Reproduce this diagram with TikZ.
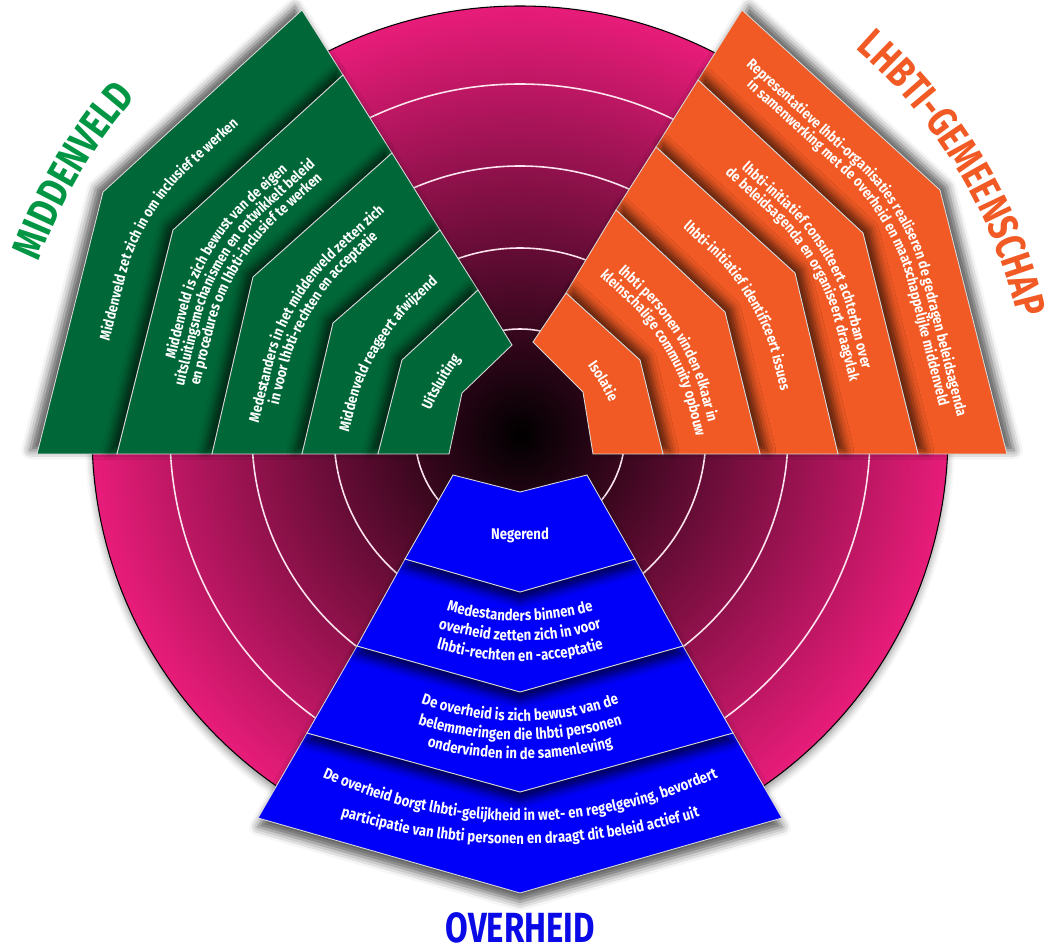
\documentclass[tikz,border=0pt]{standalone}
\usepackage{fontspec}
\usepackage{tikz}
\usetikzlibrary{calc}
\usetikzlibrary{decorations.text}
\usetikzlibrary{shadows.blur}

\definecolor{ringpink}{RGB}{232,28,122}
\definecolor{mvgreen}{RGB}{0,104,56}
\definecolor{mvtitle}{RGB}{0,150,68}
\definecolor{gmorange}{RGB}{241,90,36}
\definecolor{ohblue}{RGB}{0,0,250}
\definecolor{ohtitle}{RGB}{10,10,230}

\newfontfamily\bandfont[FakeStretch=0.85]{Fira Sans}
\newfontfamily\titlefont[FakeStretch=0.78]{Fira Sans}
\newcommand{\bandstyle}{\bandfont\bfseries\fontsize{8.4}{9}\selectfont}
\newcommand{\bluestyle}{\bandfont\bfseries\fontsize{8.8}{10}\selectfont}
\newcommand{\titlestyle}{\titlefont\bfseries\fontsize{24}{26}\selectfont}

% text line in a green band, bent round the corner (corner, offset, text)
\newcommand{\gline}[3]{%
  \path[decorate, decoration={text along path, text align=center, text color=white, text={|\bandstyle|#3}}, rounded corners=1.2cm]
    ($(#1)+({-0.895*(#2)-0.243*240},{-0.538*(#2)+0.970*240})$)
    -- ($(#1)+({-0.895*(#2)},{-0.538*(#2)})$)
    -- ($(#1)+({-0.895*(#2)+0.740*240},{-0.538*(#2)-0.673*240})$);
}
% same for the orange bands
\newcommand{\oline}[3]{%
  \path[decorate, decoration={text along path, text align=center, text color=white, text={|\bandstyle|#3}}, rounded corners=1.2cm]
    ($(#1)+({0.895*(#2)-0.740*240},{-0.538*(#2)-0.673*240})$)
    -- ($(#1)+({0.895*(#2)},{-0.538*(#2)})$)
    -- ($(#1)+({0.895*(#2)+0.246*240},{-0.538*(#2)+0.969*240})$);
}
% blue lines sag in the middle (baseline y, sag, half width, text)
\newcommand{\bline}[4]{%
  \path[decorate, decoration={text along path, text align=center, text color=white, text={|\bluestyle|#4}}]
    ({520-#3},{#1-#2}) .. controls ({520-#3/3},{#1+#2/3}) and ({520+#3/3},{#1+#2/3}) .. ({520+#3},{#1-#2});
}

\begin{document}
\begin{tikzpicture}[x=0.02cm, y=-0.02cm,
	gband/.style={fill=mvgreen, draw=white!85!black, line width=0.5pt, blur shadow={shadow xshift=-4pt, shadow yshift=2pt, shadow blur radius=5pt, shadow opacity=65}},
	oband/.style={fill=gmorange, draw=white!85!black, line width=0.5pt, blur shadow={shadow xshift=4pt, shadow yshift=2pt, shadow blur radius=5pt, shadow opacity=65}},
	bband/.style={fill=ohblue, draw=white!85!black, line width=0.5pt, blur shadow={shadow xshift=0pt, shadow yshift=-5pt, shadow blur radius=5pt, shadow opacity=65}},
	bandtext/.style={text=white, font=\bluestyle, inner sep=0pt},
	titletext/.style={font=\titlestyle, inner sep=0pt}]

	\useasboundingbox (0,0) rectangle (1049,952);
	\coordinate (ctr) at (520,434);
	\pgfmathsetmacro\outerR{428}

	%circle with the rings
	\path[blur shadow={shadow xshift=0pt, shadow yshift=-3pt, shadow blur radius=4pt, shadow opacity=40}] (ctr) circle[radius=\outerR];
	\shade[inner color=black, outer color=ringpink] (ctr) circle[radius=\outerR];
	\foreach \r in {350,268,186,105}{
		\draw[white!88!ringpink, line width=0.9pt] (ctr) circle[radius=\r];
	}
	\draw[black, line width=0.6pt] (ctr) circle[radius=\outerR];

	%green bands: bottom x / corner / end on the right edge
	\foreach \i/\bx/\cx/\cy/\ex/\ey in {0/37/103/192/302/10, 1/117/173/230/343/75, 2/212/253/277/392/153, 3/302/333/323/440/230, 4/378/402/360/478/290, 5/449/462/393/512/345}{
		\coordinate (gb\i) at (\bx,454);
		\coordinate (gc\i) at (\cx,\cy);
		\coordinate (ge\i) at (\ex,\ey);
	}
	\foreach \i in {1,...,5}{
		\pgfmathtruncatemacro\j{\i-1}
		\path[gband] (gb\j) -- (gc\j) -- (ge\j) -- (ge\i) -- (gc\i) -- (gb\i) -- cycle;
		\coordinate (gm\i) at ($(gc\j)!0.5!(gc\i)$);
	}

	%orange bands: end on the left edge / corner / bottom x
	\foreach \i/\ex/\ey/\cx/\cy/\bx in {0/742/10/940/190/1007, 1/698/80/863/233/918, 2/656/147/795/273/838, 3/616/210/725/312/760, 4/566/293/640/360/663, 5/533/342/583/392/593}{
		\coordinate (oe\i) at (\ex,\ey);
		\coordinate (oc\i) at (\cx,\cy);
		\coordinate (ob\i) at (\bx,454);
	}
	\foreach \i in {1,...,5}{
		\pgfmathtruncatemacro\j{\i-1}
		\path[oband] (oe\j) -- (oc\j) -- (ob\j) -- (ob\i) -- (oc\i) -- (oe\i) -- cycle;
		\coordinate (om\i) at ($(oc\j)!0.5!(oc\i)$);
	}

	%blue bands: y at the sides / y in the middle / half width
	\foreach \i/\y/\ym/\hw in {0/475/492/67, 1/559/592/115, 2/646/692/163, 3/733/792/213, 4/818/893/262}{
		\coordinate (bl\i) at ({520-\hw},\y);
		\coordinate (bm\i) at (520,\ym);
		\coordinate (br\i) at ({520+\hw},\y);
	}
	\foreach \i in {4,3,2,1}{
		\pgfmathtruncatemacro\j{\i-1}
		\path[bband] (bl\j) -- (bm\j) -- (br\j) -- (br\i) -- (bm\i) -- (bl\i) -- cycle;
	}

	%green texts
	\gline{gm1}{-4}{Middenveld zet zich in om inclusief te werken}
	\gline{gm2}{11}{Middenveld is zich bewust van de eigen}
	\gline{gm2}{-4}{uitsluitingsmechanismen en ontwikkelt beleid}
	\gline{gm2}{-19}{en procedures om lhbti-inclusief te werken}
	\gline{gm3}{3.5}{Medestanders in het middenveld zetten zich}
	\gline{gm3}{-11.5}{in voor lhbti-rechten en acceptatie}
	\gline{gm4}{-4}{Middenveld reageert afwijzend}
	\gline{gm5}{-4}{Uitsluiting}

	%orange texts
	\oline{om1}{3.5}{Representatieve lhbti-organisaties realiseren de gedragen beleidsagenda}
	\oline{om1}{-11.5}{in samenwerking met de overheid en maatschappelijke middenveld}
	\oline{om2}{3.5}{lhbti-initiatief consulteert achterban over}
	\oline{om2}{-11.5}{de beleidsagenda en organiseert draagvlak}
	\oline{om3}{-4}{lhbti-initiatief identificeert issues}
	\oline{om4}{3.5}{lhbti personen vinden elkaar in}
	\oline{om4}{-11.5}{kleinschalige community opbouw}
	\oline{om5}{-4}{Isolatie}

	%blue texts
	\node[bandtext] (negerend) at (520,535) {Negerend};
	\bline{621}{20}{103}{Medestanders binnen de}
	\bline{641}{23}{109}{overheid zetten zich in voor}
	\bline{661}{22}{112}{lhbti-rechten en -acceptatie}
	\bline{721}{29}{128}{De overheid is zich bewust van de}
	\bline{740}{25}{130}{belemmeringen die lhbti personen}
	\bline{759}{21}{122}{ondervinden in de samenleving}
	\bline{821}{54}{220}{De overheid borgt lhbti-gelijkheid in wet- en regelgeving, bevordert}
	\bline{844}{43}{225}{participatie van lhbti personen en draagt dit beleid actief uit}

	%titles
	\path[decorate, decoration={text along path, text align=center, text color=mvtitle, text={|\titlestyle|MIDDENVELD}}] ([shift={(-179.5:511)}]ctr) arc[start angle=-179.5, end angle=-119.5, radius=511];
	\path[decorate, decoration={text along path, text align=center, text color=gmorange, text={|\titlestyle|LHBTI-GEMEENSCHAP}}] ([shift={(-61:511)}]ctr) arc[start angle=-61, end angle=-1, radius=511];
	\node[titletext, text=ohtitle] (ohTitle) at (520,928) {OVERHEID};
\end{tikzpicture}
\end{document}
